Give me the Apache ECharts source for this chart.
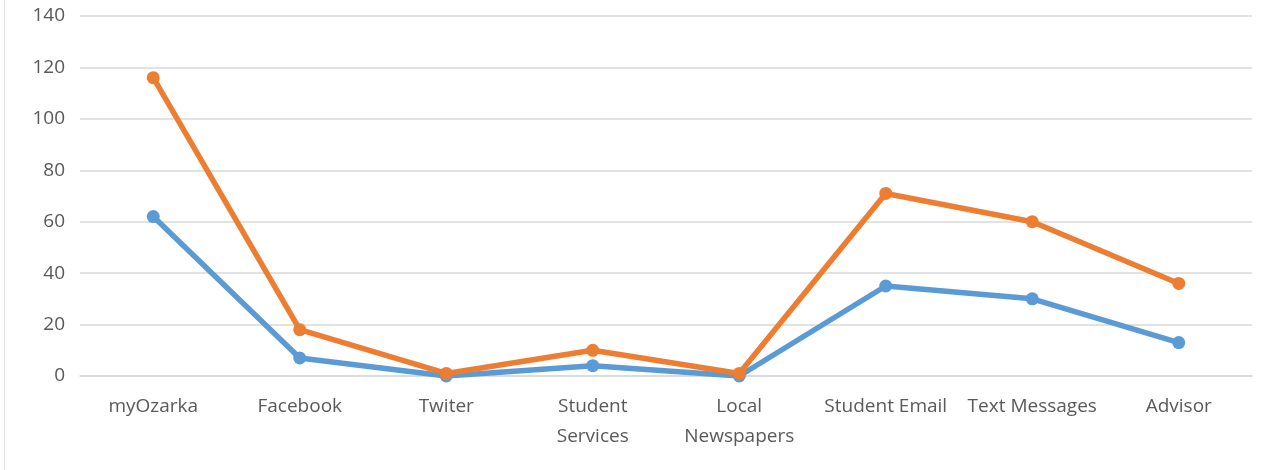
<!DOCTYPE html>
<html>
<head>
<meta charset="utf-8">
<script src="https://cdn.jsdelivr.net/npm/echarts@6/dist/echarts.min.js"></script>
<style>
html,body{margin:0;padding:0;background:#fff;}
#chart{width:1268px;height:470px;}
</style>
</head>
<body>
<div id="chart"></div>
<script>
const categories = ['myOzarka', 'Facebook', 'Twiter', 'Student\nServices', 'Local\nNewspapers', 'Student Email', 'Text Messages', 'Advisor'];
const seriesBlue = [62, 7, 0, 4, 0, 35, 30, 13];
const seriesOrange = [116, 18, 1, 10, 1, 71, 60, 36];
const yTicks = { min: 0, max: 140, interval: 20 };

const chart = echarts.init(document.getElementById('chart'));
const labelStyle = { color: '#595959', fontFamily: 'Open Sans', fontSize: 19 };
chart.setOption({
  animation: false,
  backgroundColor: '#ffffff',
  graphic: [{
    type: 'line', shape: { x1: 4.5, y1: 0, x2: 4.5, y2: 470 },
    style: { stroke: '#e6e6e6', lineWidth: 1 }
  }],
  grid: { left: 80, right: 16, top: 16, bottom: 94 },
  xAxis: {
    type: 'category',
    data: categories,
    boundaryGap: true,
    axisLine: { show: true, lineStyle: { color: '#d9d9d9', width: 1.5 } },
    axisTick: { show: false },
    axisLabel: Object.assign({ margin: 16, lineHeight: 30, interval: 0 }, labelStyle)
  },
  yAxis: {
    type: 'value',
    min: yTicks.min, max: yTicks.max, interval: yTicks.interval,
    axisLine: { show: false },
    axisTick: { show: false },
    splitLine: { lineStyle: { color: '#d9d9d9', width: 1.5 } },
    axisLabel: Object.assign({ margin: 15 }, labelStyle)
  },
  series: [
    {
      type: 'line', data: seriesBlue,
      symbol: 'circle', symbolSize: 13,
      lineStyle: { color: '#5B9BD5', width: 5.5 },
      itemStyle: { color: '#5B9BD5' }
    },
    {
      type: 'line', data: seriesOrange,
      symbol: 'circle', symbolSize: 13,
      lineStyle: { color: '#ED7D31', width: 5.5 },
      itemStyle: { color: '#ED7D31' }
    }
  ]
});
</script>
</body>
</html>
